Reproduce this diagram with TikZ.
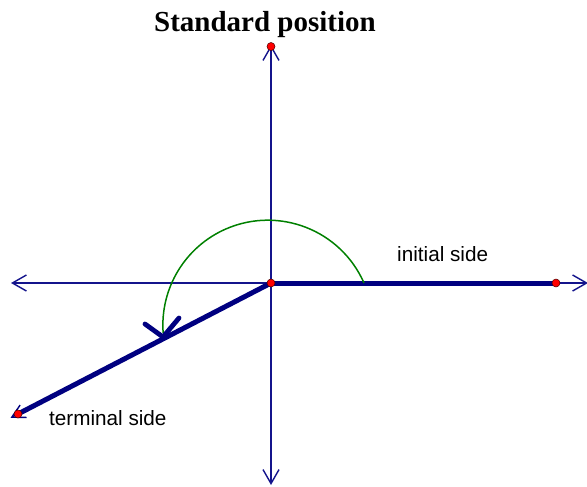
\documentclass[tikz,border=0pt]{standalone}
\usepackage{fontspec}
\setmainfont{Liberation Serif}
\newfontfamily\labelfont{Liberation Sans}
\usetikzlibrary{arrows.meta}
\definecolor{navy}{RGB}{0,0,128}
\definecolor{axisblue}{RGB}{20,20,140}
\definecolor{arcgreen}{RGB}{0,128,0}
\tikzset{
  axisline/.style={draw=axisblue, line width=1.4pt, -{Straight Barb[length=14pt,width=16pt,line width=1.4pt]}},
  sideline/.style={draw=navy, line width=5pt},
  reddot/.style={circle, fill=red, draw=black!70!red, line width=0.5pt, minimum size=8pt, inner sep=0pt},
  lbl/.style={font=\labelfont\fontsize{20.7}{24}\selectfont, anchor=base west, inner sep=0pt, text=black},
}
\begin{document}
\begin{tikzpicture}[x=1pt,y=-1pt]
\useasboundingbox (0,0) rectangle (587,487);
\coordinate (O) at (271,283);
\coordinate (L) at (11,283);
\coordinate (R) at (588,283);
\coordinate (U) at (271,45);
\coordinate (D) at (271,485);
\coordinate (I) at (556,283);
\coordinate (T) at (18,414);
\coordinate (Ttip) at (10.5,417.9);
\coordinate (TopP) at (271,46.5);
\coordinate (ArcS) at (364,283);
\coordinate (AH) at (163,337);
\coordinate (AH1) at (145,324);
\coordinate (AH2) at (179,318);
% axes
\draw[axisline] (O) -- (L);
\draw[axisline] (O) -- (R);
\draw[axisline] (O) -- (U);
\draw[axisline] (O) -- (D);
% sides
\draw[sideline] (O) -- (I);
\draw[draw=navy, line width=1.4pt, -{Straight Barb[length=13pt,width=14pt,line width=1.4pt]}] (O) -- (Ttip);
\draw[sideline] (O) -- (T);
% arc
\draw[arcgreen, line width=1.5pt] (ArcS) arc[start angle=-23.7, end angle=-184.2, radius=105];
\draw[navy, line width=4.8pt, line cap=round, line join=round] (AH1) -- (AH) -- (AH2);
% dots
\node[reddot] (o) at (O) {};
\node[reddot] (i) at (I) {};
\node[reddot] (t) at (T) {};
\node[reddot] (u) at (TopP) {};
% texts
\node[font=\bfseries\fontsize{29}{34}\selectfont, anchor=base, inner sep=0pt] (title) at (265,32) {Standard position};
\node[lbl] (init) at (397,261) {initial side};
\node[lbl] (term) at (49,425) {terminal side};
\end{tikzpicture}
\end{document}
